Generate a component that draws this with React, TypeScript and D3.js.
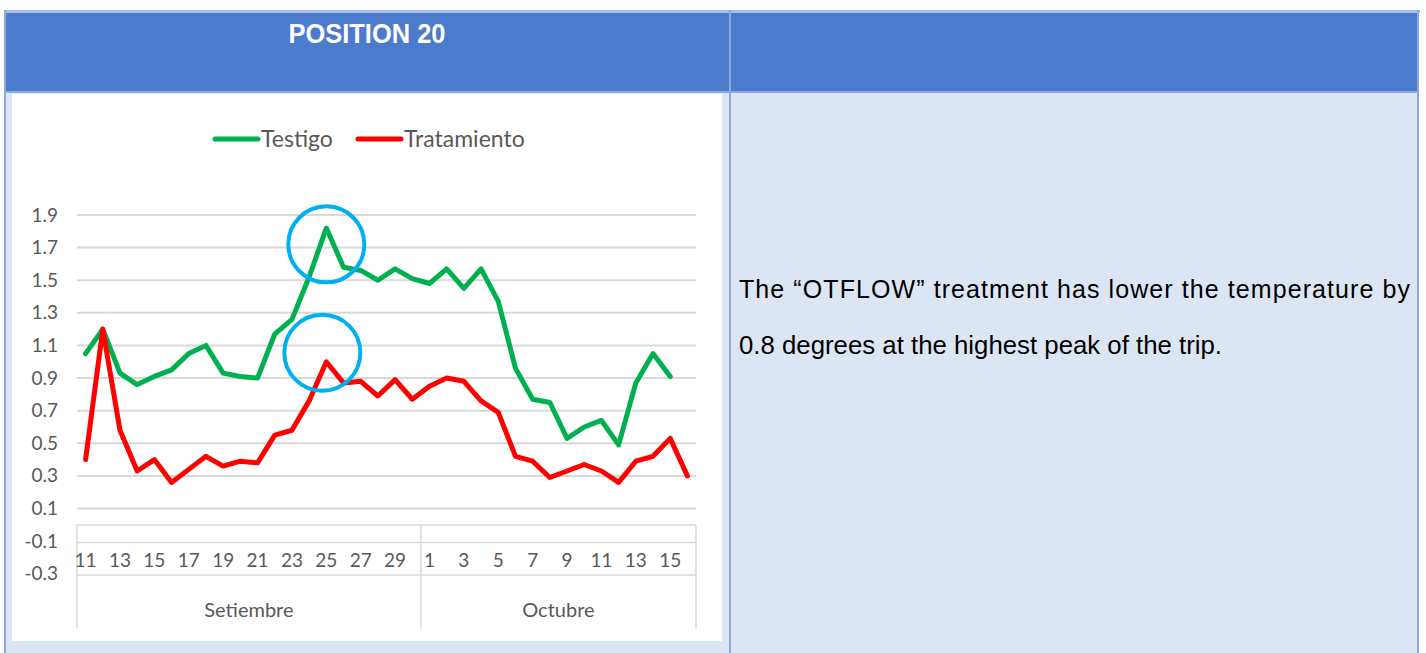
import * as d3 from 'd3';
import React from 'react';

// Days on the x axis (Setiembre 11-30, Octubre 1-16)
const septDays = ['11', '12', '13', '14', '15', '16', '17', '18', '19', '20', '21', '22', '23', '24', '25', '26', '27', '28', '29', '30'];
const octDays = ['1', '2', '3', '4', '5', '6', '7', '8', '9', '10', '11', '12', '13', '14', '15', '16'];
const months = ['Setiembre', 'Octubre'];

// Series values
const testigo = [1.05, 1.20, 0.93, 0.86, 0.91, 0.95, 1.05, 1.10, 0.93, 0.91, 0.90, 1.17, 1.26, 1.52, 1.82, 1.58, 1.56, 1.50, 1.57, 1.51,
    1.48, 1.57, 1.45, 1.57, 1.37, 0.96, 0.77, 0.75, 0.53, 0.60, 0.64, 0.49, 0.87, 1.05, 0.91];
const tratamiento = [0.40, 1.20, 0.58, 0.33, 0.40, 0.26, 0.34, 0.42, 0.36, 0.39, 0.38, 0.55, 0.58, 0.76, 1.00, 0.87, 0.88, 0.79, 0.89, 0.77,
    0.85, 0.90, 0.88, 0.76, 0.69, 0.42, 0.39, 0.29, 0.33, 0.37, 0.33, 0.26, 0.39, 0.42, 0.53, 0.30];

const yTicks = [1.9, 1.7, 1.5, 1.3, 1.1, 0.9, 0.7, 0.5, 0.3, 0.1, -0.1, -0.3];
const gridTicks = [1.9, 1.7, 1.5, 1.3, 1.1, 0.9, 0.7, 0.5, 0.3, 0.1];

// Highlight circles around the peak (category index, value)
const highlights = [{ i: 14, v: 1.72, dx: 0 }, { i: 14, v: 1.055, dx: -4 }];

const headerTitle = 'POSITION 20';
const noteLines = ['The \u201COTFLOW\u201D treatment has lower the temperature by', '0.8 degrees at the highest peak of the trip.'];

const axisFont = 'Lato, "Open Sans", sans-serif';
const gray = '#595959';

function App() {
    const days = [...septDays, ...octDays];
    const idx = days.map((_, i) => i);

    // Scales
    const x = d3.scaleBand<number>().domain(idx).range([77, 696]);
    const y = d3.scaleLinear().domain([0.1, 1.9]).range([508.5, 215]);
    const cx = (i: number) => (x(i) as number) + x.bandwidth() / 2;

    const line = d3.line<number>()
        .x((_, i) => cx(i))
        .y((d) => y(d));

    // Month split
    const splitX = x(septDays.length) as number;
    const boxTop = 525;
    const boxBottom = 628;

    return (
        <svg width={1426} height={653} style={{ position: 'absolute', left: 0, top: 0, background: '#fff' }}>
            {/* table frame */}
            <rect x={4} y={10} width={1416} height={3} fill="#A9BFE6" />
            <rect x={5} y={13} width={1414} height={78} fill="#4A7BCD" />
            <rect x={5} y={91} width={1414} height={2} fill="#8EAADB" />
            <rect x={5} y={93} width={1414} height={560} fill="#DCE5F3" />
            <rect x={4} y={10} width={2} height={643} fill="#8EAADB" />
            <rect x={729} y={10} width={2} height={643} fill="#8EAADB" />
            <rect x={1417} y={10} width={2} height={643} fill="#8EAADB" />
            <text x={367} y={43} textAnchor="middle" fill="#fff" fontFamily='"Liberation Sans", Arial, sans-serif'
                fontWeight="bold" fontSize={27} textLength={157} lengthAdjust="spacingAndGlyphs">{headerTitle}</text>

            {/* chart area */}
            <rect x={12} y={94} width={710} height={547} fill="#fff" />

            {/* legend */}
            <line x1={215} x2={258} y1={139} y2={139} stroke="#00B050" strokeWidth={5} strokeLinecap="round" />
            <text x={261} y={147} fill={gray} fontFamily={axisFont} fontSize={23}>Testigo</text>
            <line x1={358} x2={401} y1={139} y2={139} stroke="#FF0000" strokeWidth={5} strokeLinecap="round" />
            <text x={404} y={147} fill={gray} fontFamily={axisFont} fontSize={23}>Tratamiento</text>

            {/* gridlines */}
            {gridTicks.map((t) => (
                <line key={`g${t}`} x1={77} x2={696} y1={y(t)} y2={y(t)} stroke="#D9D9D9" strokeWidth={2} />
            ))}
            {yTicks.map((t) => (
                <text key={`y${t}`} x={58} y={y(t) + 6.5} textAnchor="end" fill={gray} fontFamily={axisFont} fontSize={19}>
                    {t.toFixed(1)}
                </text>
            ))}

            {/* multi-level category axis */}
            <g stroke="#D9D9D9" strokeWidth={1.5}>
                <line x1={77} x2={696} y1={boxTop} y2={boxTop} />
                <line x1={77} x2={696} y1={542.5} y2={542.5} />
                <line x1={77} x2={696} y1={575} y2={575} />
                <line x1={77} x2={77} y1={boxTop} y2={boxBottom} />
                <line x1={splitX} x2={splitX} y1={boxTop} y2={boxBottom} />
                <line x1={696} x2={696} y1={boxTop} y2={boxBottom} />
            </g>
            {days.map((d, i) => (i % 2 === 0 ? (
                <text key={`d${i}`} x={cx(i)} y={567} textAnchor="middle" fill={gray} fontFamily={axisFont} fontSize={19}>{d}</text>
            ) : null))}
            <text x={(77 + splitX) / 2} y={617} textAnchor="middle" fill={gray} fontFamily={axisFont} fontSize={20}>{months[0]}</text>
            <text x={(splitX + 696) / 2} y={617} textAnchor="middle" fill={gray} fontFamily={axisFont} fontSize={20}>{months[1]}</text>

            {/* series */}
            <path d={line(testigo) || ''} fill="none" stroke="#00B050" strokeWidth={5} strokeLinejoin="round" strokeLinecap="round" />
            <path d={line(tratamiento) || ''} fill="none" stroke="#FF0000" strokeWidth={5} strokeLinejoin="round" strokeLinecap="round" />

            {/* highlight circles */}
            {highlights.map((h, k) => (
                <circle key={`c${k}`} cx={cx(h.i) + h.dx} cy={y(h.v)} r={38} fill="none" stroke="#00B0F0" strokeWidth={4} />
            ))}

            {/* note */}
            <text x={739} y={298} fill="#000" fontFamily='"Liberation Sans", Arial, sans-serif' fontSize={25}
                textLength={671} lengthAdjust="spacing">{noteLines[0]}</text>
            <text x={739} y={354} fill="#000" fontFamily='"Liberation Sans", Arial, sans-serif' fontSize={25}
                textLength={483} lengthAdjust="spacingAndGlyphs">{noteLines[1]}</text>
        </svg>
    );
}

export default App;
